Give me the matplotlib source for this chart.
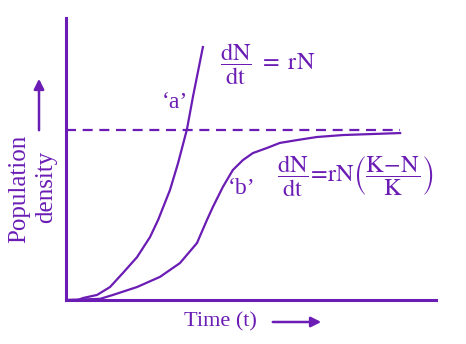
import matplotlib.pyplot as plt
from matplotlib.patches import FancyArrowPatch

plt.rcParams["mathtext.fontset"] = "stix"
plt.rcParams["font.family"] = "Liberation Serif"

PURPLE = "#6a1cb4"

# curve 'a' : exponential growth
t_a = [0.0, 0.32, 0.46, 0.84, 1.19, 1.54, 1.92, 2.27, 2.49, 2.81, 3.03, 3.27, 3.43, 3.70]
n_a = [0.0, 0.0, 0.07, 0.18, 0.46, 0.96, 1.52, 2.23, 2.84, 3.90, 4.86, 6.06, 7.20, 8.97]

# curve 'b' : logistic growth
t_b = [0.0, 0.92, 1.27, 1.92, 2.54, 3.08, 3.54, 3.81, 3.97, 4.24, 4.51, 4.78,
       5.05, 5.43, 5.78, 6.24, 6.78, 7.49, 9.03]
n_b = [0.0, 0.04, 0.18, 0.46, 0.82, 1.31, 2.02, 2.84, 3.30, 4.01, 4.61, 4.96,
       5.21, 5.39, 5.57, 5.67, 5.78, 5.85, 5.92]

# carrying capacity K
k_level = 6.03
k_end = 9.03

fig = plt.figure(figsize=(4.66, 3.44), dpi=100)
ax = fig.add_axes([66 / 466, 44 / 344, 370 / 466, 282 / 344])

ax.plot(t_a, n_a, color=PURPLE, lw=1.6, solid_joinstyle="round")
ax.plot(t_b, n_b, color=PURPLE, lw=1.6, solid_joinstyle="round")
ax.plot([0, k_end], [k_level, k_level], color=PURPLE, lw=1.6,
        dashes=(4.5, 3))

ax.set_xlim(0, 10)
ax.set_ylim(0, 10)
ax.set_xticks([])
ax.set_yticks([])
for side in ["top", "right"]:
    ax.spines[side].set_visible(False)
for side in ["left", "bottom"]:
    ax.spines[side].set_color(PURPLE)
    ax.spines[side].set_linewidth(2.2)

# curve labels
ax.text(2.95, 7.0, "\u2018a\u2019", color=PURPLE, fontsize=17, ha="center", va="center")
ax.text(4.75, 3.95, "\u2018b\u2019", color=PURPLE, fontsize=17, ha="center", va="center")

# equations
ax.text(4.15, 8.35, r"$\dfrac{\mathrm{dN}}{\mathrm{dt}}\ =\ \mathrm{rN}$",
        color=PURPLE, fontsize=17.5, ha="left", va="center")
ax.text(5.7, 4.4,
        r"$\dfrac{\mathrm{dN}}{\mathrm{dt}}\!=\!\mathrm{rN}\left(\dfrac{\mathrm{K\!-\!N}}{\mathrm{K}}\right)$",
        color=PURPLE, fontsize=17.5, ha="left", va="center")

# axis titles with arrows
fig.text(19 / 466, 1 - 189 / 344, "Population", color=PURPLE,
         fontsize=18, rotation=90, ha="center", va="center")
fig.text(46 / 466, 1 - 187 / 344, "density", color=PURPLE,
         fontsize=18, rotation=90, ha="center", va="center")
fig.text(220 / 466, 1 - 322 / 344, "Time (t)", color=PURPLE,
         fontsize=16, ha="center", va="center")
fig.patches.append(FancyArrowPatch(
    (270 / 466, 1 - 322 / 344), (324 / 466, 1 - 322 / 344),
    transform=fig.transFigure, arrowstyle="-|>", mutation_scale=15,
    color=PURPLE, lw=1.8))
fig.patches.append(FancyArrowPatch(
    (39 / 466, 1 - 133 / 344), (39 / 466, 1 - 76 / 344),
    transform=fig.transFigure, arrowstyle="-|>", mutation_scale=15,
    color=PURPLE, lw=1.8))

fig.savefig("out.png", dpi=100)
